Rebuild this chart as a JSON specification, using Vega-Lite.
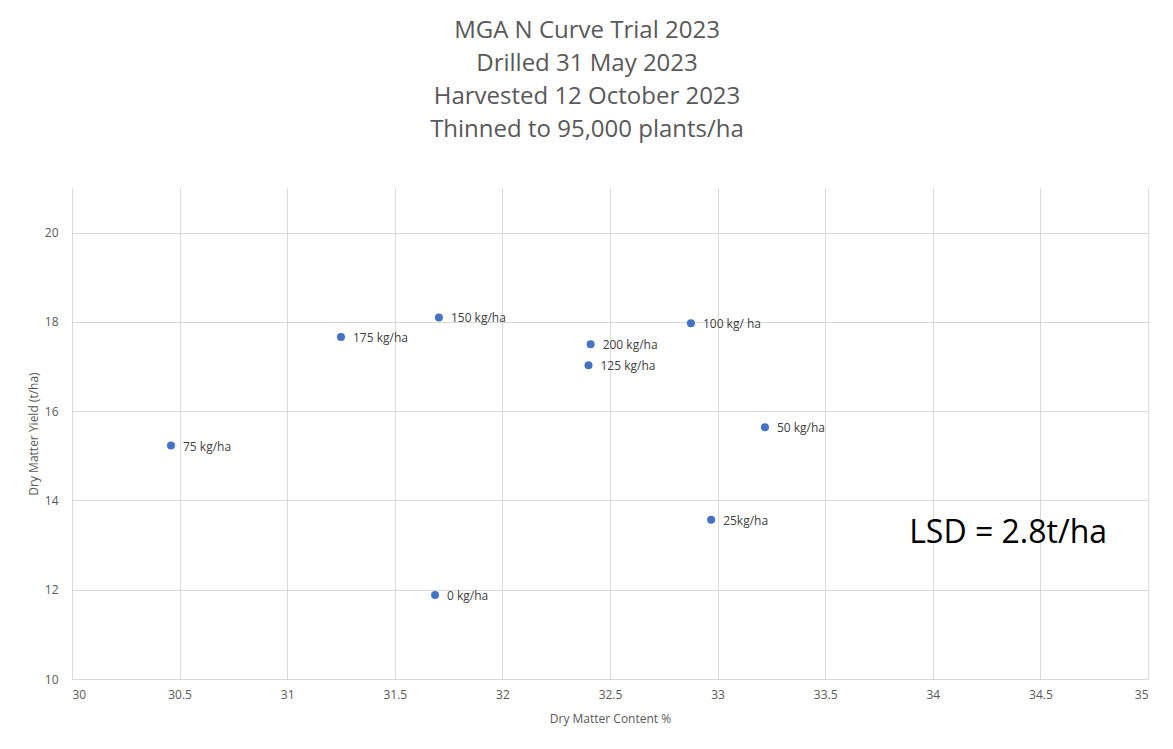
{
  "$schema": "https://vega.github.io/schema/vega-lite/v6.json",
  "width": 1076,
  "height": 491,
  "autosize": {"type": "none"},
  "padding": {"left": 72, "top": 188, "right": 25, "bottom": 70},
  "background": "white",
  "title": {
    "text": ["MGA N Curve Trial 2023", "Drilled 31 May 2023", "Harvested 12 October 2023", "Thinned to 95,000 plants/ha"],
    "anchor": "middle",
    "dx": -23,
    "fontSize": 24,
    "lineHeight": 33,
    "font": "Open Sans",
    "fontWeight": "normal",
    "color": "#595959",
    "offset": 46
  },
  "config": {
    "view": {"stroke": null},
    "font": "Open Sans",
    "axis": {
      "gridColor": "#D9D9D9",
      "gridWidth": 1,
      "domain": false,
      "ticks": false,
      "labelColor": "#595959",
      "labelFontSize": 12,
      "titleColor": "#595959",
      "titleFontSize": 12,
      "titleFontWeight": "normal",
      "labelFont": "Open Sans",
      "titleFont": "Open Sans"
    }
  },
  "layer": [
    {
      "data": {"values": [
        {"dmc": 30.46, "yield": 15.23, "label": "75 kg/ha"},
        {"dmc": 31.25, "yield": 17.66, "label": "175 kg/ha"},
        {"dmc": 31.705, "yield": 18.1, "label": "150 kg/ha"},
        {"dmc": 31.687, "yield": 11.88, "label": "0 kg/ha"},
        {"dmc": 32.41, "yield": 17.5, "label": "200 kg/ha"},
        {"dmc": 32.40, "yield": 17.03, "label": "125 kg/ha"},
        {"dmc": 32.876, "yield": 17.97, "label": "100 kg/ ha"},
        {"dmc": 32.97, "yield": 13.57, "label": "25kg/ha"},
        {"dmc": 33.22, "yield": 15.64, "label": "50 kg/ha"}
      ]},
      "layer": [
        {
          "mark": {"type": "point", "filled": true, "size": 64, "color": "#4472C4", "opacity": 1},
          "encoding": {
            "x": {"field": "dmc", "type": "quantitative", "scale": {"domain": [30, 35], "nice": false, "zero": false},
              "axis": {"title": "Dry Matter Content %", "format": "~g", "values": [30, 30.5, 31, 31.5, 32, 32.5, 33, 33.5, 34, 34.5, 35], "labelPadding": 10, "titlePadding": 13}},
            "y": {"field": "yield", "type": "quantitative", "scale": {"domain": [10, 21], "nice": false, "zero": false},
              "axis": {"title": "Dry Matter Yield (t/ha)", "values": [10, 12, 14, 16, 18, 20], "labelPadding": 14, "titlePadding": 4}}
          }
        },
        {
          "mark": {"type": "text", "align": "left", "dx": 12, "dy": 1, "fontSize": 12, "color": "#404040", "font": "Open Sans"},
          "encoding": {
            "x": {"field": "dmc", "type": "quantitative"},
            "y": {"field": "yield", "type": "quantitative"},
            "text": {"field": "label"}
          }
        }
      ]
    },
    {
      "data": {"values": [{"dmc": 33.89, "yield": 13.27, "label": "LSD = 2.8t/ha"}]},
      "mark": {"type": "text", "align": "left", "baseline": "middle", "fontSize": 32, "color": "#000000", "font": "Open Sans"},
      "encoding": {
        "x": {"field": "dmc", "type": "quantitative"},
        "y": {"field": "yield", "type": "quantitative"},
        "text": {"field": "label"}
      }
    }
  ]
}
